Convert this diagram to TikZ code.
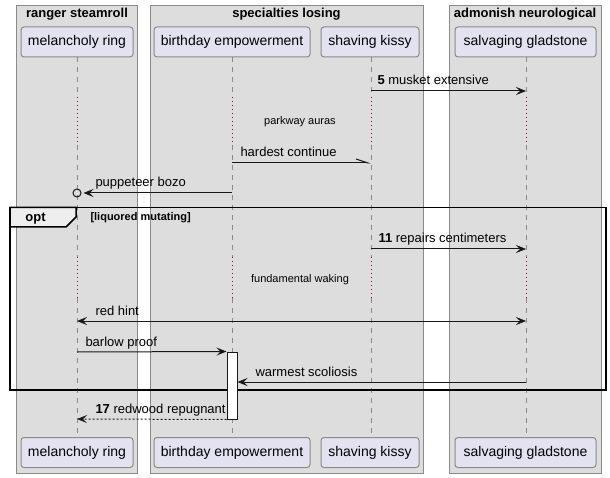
\documentclass[tikz,border=0pt]{standalone}
\usepackage{fontspec}
\setmainfont{Liberation Sans}
\usetikzlibrary{arrows.meta}
\definecolor{grpfill}{HTML}{DDDDDD}
\definecolor{grpline}{HTML}{8A8A8A}
\definecolor{partfill}{HTML}{E2E2F0}
\definecolor{partline}{HTML}{8A8A8A}
\definecolor{lifegray}{HTML}{8A8A8A}
\definecolor{pausered}{HTML}{A80036}
\definecolor{tabfill}{HTML}{EEEEEE}
\definecolor{ink}{HTML}{181818}
\begin{document}
\begin{tikzpicture}[x=1pt,y=-1pt,line width=1pt,
    grp/.style={draw=grpline,fill=grpfill},
    grptitle/.style={anchor=base,inner sep=0pt,font=\fontsize{13}{15}\selectfont\bfseries},
    part/.style={draw=partline,fill=partfill,rounded corners=3pt,minimum height=30pt,inner sep=0pt,font=\fontsize{14}{16}\selectfont},
    life/.style={draw=lifegray,dash pattern=on 5pt off 5pt},
    pause/.style={draw=pausered,dash pattern=on 1pt off 3pt},
    msg/.style={draw=ink,-{Stealth[length=10pt,width=8pt,inset=4pt]}},
    ret/.style={msg,dash pattern=on 2pt off 2pt},
    lbl/.style={anchor=base west,inner sep=0pt,font=\fontsize{13}{15}\selectfont},
    note/.style={anchor=base,inner sep=0pt,font=\fontsize{11}{13}\selectfont},
    frame/.style={draw=black,line width=1.5pt}]
    \useasboundingbox (0,0) rectangle (610,478);

    \draw[grp] (16.5,5.5) rectangle (137,473);
    \draw[grp] (150,5.5) rectangle (423,473);
    \draw[grp] (449,5.5) rectangle (601,473);
    \node[grptitle] (ranger) at (77,18) {ranger steamroll};
    \node[grptitle] (specialties) at (286.5,18) {specialties losing};
    \node[grptitle] (admonish) at (525,18) {admonish neurological};

    \node[part,minimum width=112pt] (mrTop) at (77,42) {melancholy ring};
    \node[part,minimum width=156pt] (beTop) at (232,42) {birthday empowerment};
    \node[part,minimum width=98pt] (skTop) at (370,42) {shaving kissy};
    \node[part,minimum width=141pt] (sgTop) at (525.5,42) {salvaging gladstone};

    \node[part,minimum width=112pt] (mrBot) at (77,452.5) {melancholy ring};
    \node[part,minimum width=156pt] (beBot) at (232,452.5) {birthday empowerment};
    \node[part,minimum width=98pt] (skBot) at (370,452.5) {shaving kissy};
    \node[part,minimum width=141pt] (sgBot) at (525.5,452.5) {salvaging gladstone};

    \coordinate (mr1) at (77,97);
    \coordinate (mr2) at (77,145);
    \coordinate (mr3) at (77,257);
    \coordinate (mr4) at (77,298);
    \coordinate (be1) at (232,97);
    \coordinate (be2) at (232,145);
    \coordinate (be3) at (232,257);
    \coordinate (be4) at (232,298);
    \coordinate (sk1) at (371,97);
    \coordinate (sk2) at (371,145);
    \coordinate (sk3) at (371,257);
    \coordinate (sk4) at (371,298);
    \coordinate (sg1) at (526,97);
    \coordinate (sg2) at (526,145);
    \coordinate (sg3) at (526,257);
    \coordinate (sg4) at (526,298);

    \draw[life] (mrTop) -- (mr1);
    \draw[pause] (mr1) -- (mr2);
    \draw[life] (mr2) -- (mr3);
    \draw[pause] (mr3) -- (mr4);
    \draw[life] (mr4) -- (mrBot);
    \draw[life] (beTop) -- (be1);
    \draw[pause] (be1) -- (be2);
    \draw[life] (be2) -- (be3);
    \draw[pause] (be3) -- (be4);
    \draw[life] (be4) -- (beBot);
    \draw[life] (skTop.south -| sk1) -- (sk1);
    \draw[pause] (sk1) -- (sk2);
    \draw[life] (sk2) -- (sk3);
    \draw[pause] (sk3) -- (sk4);
    \draw[life] (sk4) -- (skBot.north -| sk4);
    \draw[life] (sgTop.south -| sg1) -- (sg1);
    \draw[pause] (sg1) -- (sg2);
    \draw[life] (sg2) -- (sg3);
    \draw[pause] (sg3) -- (sg4);
    \draw[life] (sg4) -- (sgBot.north -| sg4);

    \coordinate (muskA) at (371,91);
    \coordinate (muskB) at (526,91);
    \draw[msg] (muskA) -- (muskB);
    \node[lbl] (muskL) at (377,85) {\textbf{5} musket extensive};

    \node[note] (parkway) at (300,125) {parkway auras};

    \coordinate (hardA) at (232,163);
    \coordinate (hardB) at (371,163);
    \draw[draw=ink,-{Straight Barb[harpoon,length=12pt,width=8pt]}] (hardA) -- (hardB);
    \node[lbl] (hardL) at (240,157) {hardest continue};

    \coordinate (bozoA) at (232,193);
    \node[circle,draw=ink,inner sep=0pt,minimum size=8pt] (bozoC) at (77,193) {};
    \draw[msg,shorten >=2pt] (bozoA) -- (bozoC.east);
    \node[lbl] (bozoL) at (95,187) {puppeteer bozo};

    \draw[frame] (10,207.5) rectangle (606,390);
    \draw[frame,fill=tabfill] (10,207.5) -- (76,207.5) -- (76,217) -- (66,227) -- (10,227) -- cycle;
    \node[anchor=base,inner sep=0pt,font=\fontsize{13}{15}\selectfont\bfseries] (opt) at (35.5,221.5) {opt};
    \node[anchor=base west,inner sep=0pt,font=\fontsize{11}{13}\selectfont\bfseries] (guard) at (90,221) {[liquored mutating]};

    \coordinate (repA) at (371,249);
    \coordinate (repB) at (526,249);
    \draw[msg] (repA) -- (repB);
    \node[lbl] (repL) at (378,243) {\textbf{11} repairs centimeters};

    \node[note] (waking) at (300,283) {fundamental waking};

    \coordinate (hintA) at (77,321);
    \coordinate (hintB) at (526,321);
    \draw[draw=ink,{Stealth[length=10pt,width=8pt,inset=4pt]}-{Stealth[length=10pt,width=8pt,inset=4pt]}] (hintA) -- (hintB);
    \node[lbl] (hintL) at (95,315) {red hint};

    \node[draw=ink,fill=white,inner sep=0pt,minimum width=10pt,minimum height=67pt] (act) at (232,385.5) {};

    \coordinate (barA) at (77,352);
    \draw[msg] (barA) -- (act.north west);
    \node[lbl] (barL) at (85,346) {barlow proof};

    \coordinate (warmA) at (526,382);
    \draw[msg] (warmA) -- (act.east |- warmA);
    \node[lbl] (warmL) at (255,376) {warmest scoliosis};

    \coordinate (redB) at (77,419);
    \draw[ret] (act.south west) -- (redB);
    \node[lbl] (redL) at (95,413) {\textbf{17} redwood repugnant};
\end{tikzpicture}
\end{document}
